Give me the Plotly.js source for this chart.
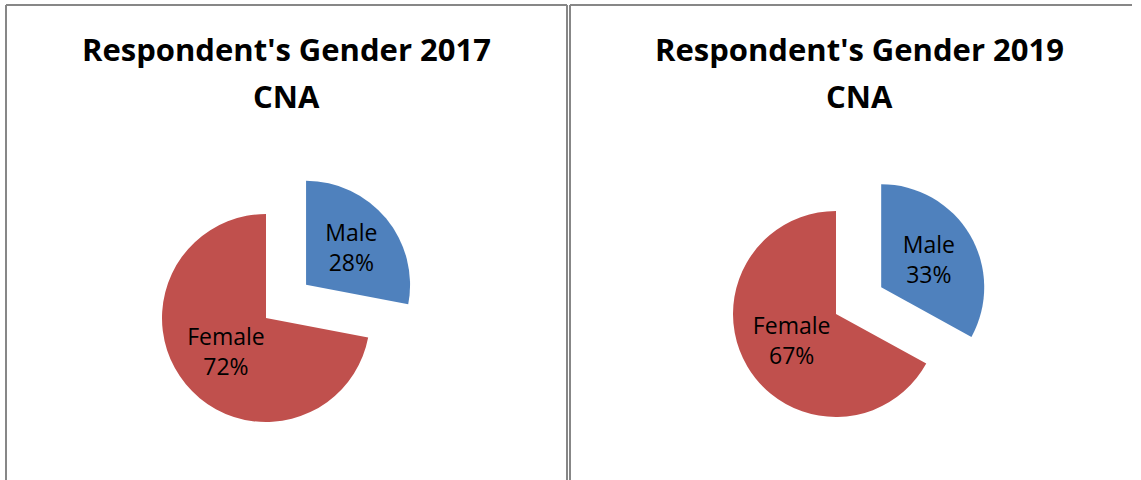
<!DOCTYPE html>
<html>
<head>
<meta charset="utf-8">
<script src="https://cdn.plot.ly/plotly-3.0.1.min.js"></script>
<style>html,body{margin:0;padding:0;background:#fff;}#chart{width:1141px;height:480px;}</style>
</head>
<body>
<div id="chart"></div>
<script>
const labels = ["Male", "Female"];
const values2017 = [28, 72];
const values2019 = [33, 67];
const titles2017 = ["Respondent's Gender 2017", "CNA"];
const titles2019 = ["Respondent's Gender 2019", "CNA"];
const colors = ["#4F81BD", "#C0504D"];

const W = 1141, H = 480;
const px = x => x / W;
const py = y => 1 - y / H;

function pieTrace(vals, cx, cy, r, pull) {
  const half = r * (1 + pull);
  return {
    type: "pie",
    labels: labels,
    values: vals,
    sort: false,
    direction: "clockwise",
    rotation: 0,
    pull: [pull, 0],
    marker: {colors: colors, line: {width: 0}},
    textinfo: "label+percent",
    textposition: "inside",
    insidetextorientation: "horizontal",
    textfont: {family: "Open Sans, sans-serif", size: 23, color: "#000"},
    hoverinfo: "label+percent",
    showlegend: false,
    domain: {x: [px(cx - half), px(cx + half)], y: [py(cy + half), py(cy - half)]}
  };
}

const data = [
  pieTrace(values2017, 266, 318, 104, 0.5),
  pieTrace(values2019, 836, 314, 103, 0.51)
];

const titleFont = {family: "Open Sans, sans-serif", size: 31, color: "#000", weight: "bold"};
function titleAnn(text, x, y) {
  return {text: "<b>" + text + "</b>", x: px(x), y: py(y), xref: "paper", yref: "paper",
          xanchor: "center", yanchor: "middle", showarrow: false, font: titleFont};
}
const annotations = [
  titleAnn(titles2017[0], 286.5, 49),
  titleAnn(titles2017[1], 286.5, 96),
  titleAnn(titles2019[0], 859, 49),
  titleAnn(titles2019[1], 859, 96)
];

const lineStyle = {color: "#878787", width: 2};
function seg(x0, y0, x1, y1) {
  return {type: "line", xref: "paper", yref: "paper", x0: px(x0), y0: py(y0), x1: px(x1), y1: py(y1), line: lineStyle};
}
const shapes = [
  seg(6, 5, 567, 5),
  seg(6, 5, 6, 482),
  seg(567, 5, 567, 482),
  seg(570, 5, 1132, 5),
  seg(570, 5, 570, 482)
];

Plotly.newPlot("chart", data, {
  width: W, height: H,
  margin: {l: 0, r: 0, t: 0, b: 0},
  paper_bgcolor: "#fff",
  annotations: annotations,
  shapes: shapes
}, {displayModeBar: false, staticPlot: true});
</script>
</body>
</html>
